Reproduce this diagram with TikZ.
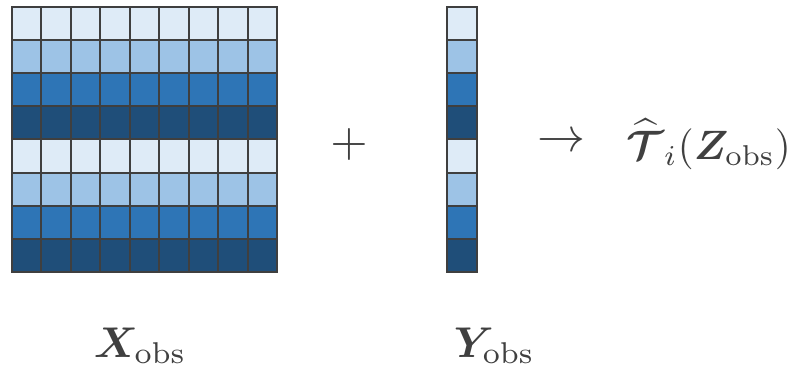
\documentclass[tikz,border=0pt]{standalone}
\usepackage{amsmath,bm}
\definecolor{ink}{HTML}{404040}
\definecolor{grid}{HTML}{3F3F3F}
\definecolor{blueA}{HTML}{DEEBF7}
\definecolor{blueB}{HTML}{9DC3E6}
\definecolor{blueC}{HTML}{2E75B6}
\definecolor{blueD}{HTML}{1F4E79}
\tikzset{
  cell/.style={draw=grid, line width=2pt, minimum width=29.5pt, minimum height=33.2pt,
    inner sep=0pt, outer sep=0pt, anchor=north west},
  sym/.style={text=ink, inner sep=0pt, scale=4.8},
  res/.style={text=ink, inner sep=0pt, anchor=base west, scale=4.1},
  lbl/.style={text=ink, inner sep=0pt, anchor=base west, scale=4.3}
}
\begin{document}
\begin{tikzpicture}[x=1pt, y=-1pt]
  \useasboundingbox (0,0) rectangle (807,373);
  % shades cycle down the rows
  \def\shades{{"blueA","blueB","blueC","blueD","blueA","blueB","blueC","blueD"}}
  % data matrix: 8 rows x 9 columns
  \foreach \r in {0,...,7} {
    \pgfmathsetmacro{\sh}{\shades[\r]}
    \foreach \c in {0,...,8} {
      \node[cell, fill=\sh] (x-\r-\c) at ({11.5+29.5*\c},{6.5+33.2*\r}) {};
    }
    % response vector
    \node[cell, fill=\sh, minimum width=30pt] (y-\r) at (446.5,{6.5+33.2*\r}) {};
  }
  \node[sym] (plus) at (349,144) {$+$};
  \node[sym] (arrow) at (561,143) {$\rightarrow$};
  \node[res] (out) at (626,159) {$\widehat{\bm{\mathcal{T}}}_{i}(\bm{Z}_{\mathrm{obs}})$};
  \node[lbl] (xl) at (93,357) {$\bm{X}_{\mathrm{obs}}$};
  \node[lbl] (yl) at (453,357) {$\bm{Y}_{\mathrm{obs}}$};
\end{tikzpicture}
\end{document}
